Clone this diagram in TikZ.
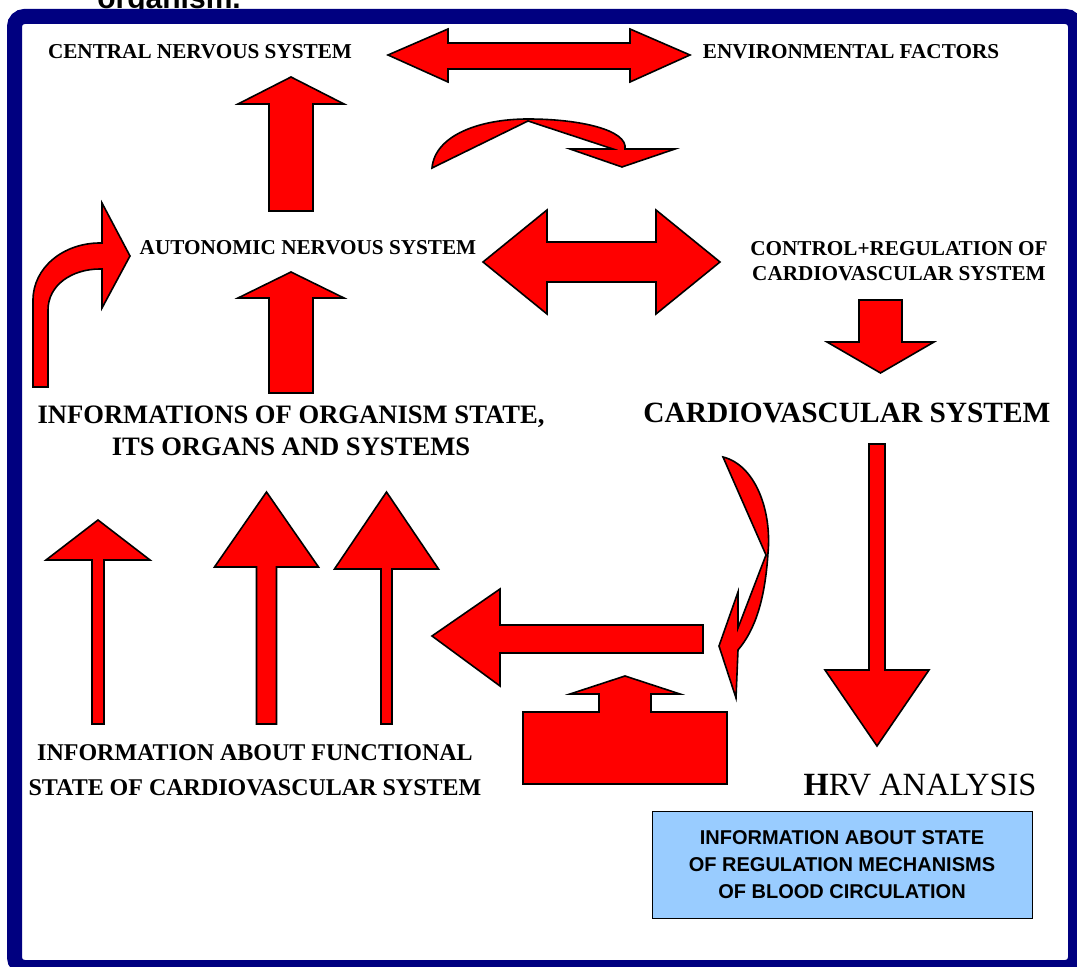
\documentclass[tikz,border=0pt]{standalone}
\usepackage{fontspec}
\setmainfont{Liberation Serif}
\setsansfont{Liberation Sans}
\definecolor{framenavy}{RGB}{0,0,128}
\definecolor{infoblue}{RGB}{153,204,255}
\begin{document}
\begin{tikzpicture}[x=0.5pt,y=-0.5pt,line join=miter]
	\tikzstyle{block_arrow} = [fill=red, draw=black, line width=0.8pt]
	\tikzstyle{label_style} = [font=\fontsize{10.6}{12.7}\selectfont\bfseries, inner sep=0pt, align=center]
	\useasboundingbox (0,0) rectangle (1077,967);
	%%% title cut by the frame
	\node[anchor=base west, inner sep=0pt, font=\fontsize{15}{18}\selectfont\sffamily\bfseries] (title) at (97,9) {organism.};
	\draw[framenavy, line width=7.5pt, rounded corners=5pt] (14.5,16.5) rectangle (1075.5,967.5);
	%%% labels
	\node[label_style] (cns) at (200,52) {CENTRAL NERVOUS SYSTEM};
	\node[label_style] (env) at (851,52) {ENVIRONMENTAL FACTORS};
	\node[label_style] (ans) at (308,248) {AUTONOMIC NERVOUS SYSTEM};
	\node[label_style] (ctrl) at (899,261) {CONTROL+REGULATION OF\\CARDIOVASCULAR SYSTEM};
	\node[label_style, font=\fontsize{13.3}{16}\selectfont\bfseries] (organs) at (291,431) {INFORMATIONS OF ORGANISM STATE,\\ITS ORGANS AND SYSTEMS};
	\node[label_style, font=\fontsize{14.7}{17}\selectfont\bfseries] (cvs) at (847,413) {CARDIOVASCULAR SYSTEM};
	\node[label_style, font=\fontsize{12}{17.5}\selectfont\bfseries] (func) at (255,770) {INFORMATION ABOUT FUNCTIONAL\\STATE OF CARDIOVASCULAR SYSTEM};
	\node[inner sep=0pt, font=\fontsize{16.2}{19}\selectfont] (hrv) at (920,785) {{\bfseries H}RV ANALYSIS};
	\node[draw=black, line width=0.5pt, fill=infoblue, minimum width=190pt, minimum height=53pt, align=center,
		font=\fontsize{10}{13.5}\selectfont\sffamily\bfseries] (regul) at (842,865) {INFORMATION ABOUT STATE\\OF REGULATION MECHANISMS\\OF BLOOD CIRCULATION};
	%%% vertical block arrows: centre/tip/head base/half head/half shaft/end
	\foreach \cx/\tip/\base/\hw/\sw/\bot in {291/77/104/53/22/211, 291/272/298/53/22/393,
		98/520/560/52/6/724, 266.5/492/567/52/10/724, 386.5/492/569/52/5.5/724,
		880.5/373/342/53.5/21.5/300, 877/746/670/52/8/444}{
		\draw[block_arrow] (\cx,\tip) -- (\cx+\hw,\base) -- (\cx+\sw,\base) -- (\cx+\sw,\bot)
			-- (\cx-\sw,\bot) -- (\cx-\sw,\base) -- (\cx-\hw,\base) -- cycle;
	}
	%%% double arrows
	\draw[block_arrow] (388,55) -- (448,29) -- (448,43) -- (630,43) -- (630,29) -- (690,55)
		-- (630,82) -- (630,69) -- (448,69) -- (448,82) -- cycle;
	\draw[block_arrow] (483,262) -- (547,210) -- (547,242) -- (656,242) -- (656,210) -- (720,262)
		-- (656,314) -- (656,282) -- (547,282) -- (547,314) -- cycle;
	%%% left arrow
	\draw[block_arrow] (432,636) -- (500,589) -- (500,625) -- (703,625) -- (703,653) -- (500,653) -- (500,686) -- cycle;
	%%% box with arrow
	\draw[block_arrow] (523,712) -- (599,712) -- (599,694) -- (570,694) -- (625,676) -- (680,694) -- (651,694)
		-- (651,712) -- (727,712) -- (727,784) -- (523,784) -- cycle;
	%%% bent arrow
	\draw[block_arrow] (33,387) -- (33,300) .. controls (33,268) and (63,243) .. (100,243) -- (102,243) -- (102,203)
		-- (130,256) -- (102,308) -- (102,269) -- (100,269) .. controls (72,269) and (48,285) .. (48,310) -- (48,387) -- cycle;
	%%% curved arrows
	\draw[block_arrow] (432,168) .. controls (435,135) and (480,119) .. (528,119) .. controls (580,119) and (628,130) .. (625,149)
		-- (675,149) -- (622,167) -- (570,149) -- (613,149) -- (528,121) -- cycle;
	\draw[block_arrow] (723,457) .. controls (755,465) and (772,510) .. (768,553) .. controls (765,600) and (755,630) .. (738,650)
		-- (736,698) -- (719,646) -- (738,592) -- (738,628) -- (766,555) -- cycle;
\end{tikzpicture}
\end{document}
